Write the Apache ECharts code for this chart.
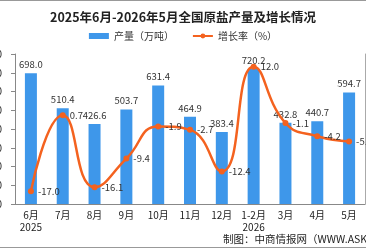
<!DOCTYPE html>
<html>
<head>
<meta charset="utf-8">
<script src="https://cdn.jsdelivr.net/npm/echarts@6/dist/echarts.min.js"></script>
<style>
  html, body { margin: 0; padding: 0; background: #fff; }
  #chart { width: 366px; height: 246px; border-top: 1px solid #999; border-bottom: 1px solid #999; }
</style>
</head>
<body>
<div id="chart"></div>
<script>
const categories = ['6月\n2025', '7月', '8月', '9月', '10月', '11月', '12月', '1-2月\n2026', '3月', '4月', '5月'];
const output = [698.0, 510.4, 426.6, 503.7, 631.4, 464.9, 383.4, 720.2, 432.8, 440.7, 594.7];
const growth = [-17.0, 0.7, -16.1, -9.4, -1.9, -2.7, -12.4, 12.0, -1.1, -4.2, -5.4];

const font = '"Noto Sans CJK SC", sans-serif';
let myChart = echarts.init(document.getElementById('chart'));
myChart.setOption({
  animation: false,
  textStyle: { fontFamily: font },
  title: {
    text: '2025年6月-2026年5月全国原盐产量及增长情况',
    left: 'center',
    top: 5,
    textStyle: { fontSize: 12.5, fontWeight: 'bold', color: '#222', fontFamily: font }
  },
  legend: {
    top: 25,
    left: 'center',
    itemGap: 18,
    itemWidth: 20,
    itemHeight: 6,
    textStyle: { fontSize: 10, color: '#333', fontFamily: font },
    data: [
      { name: '产量（万吨）', icon: 'rect' },
      { name: '增长率（%）' }
    ]
  },
  graphic: [{
    type: 'text',
    left: 223,
    top: 233,
    style: { text: '制图：中商情报网（WWW.ASKCI.COM）', fontSize: 10.5, fill: '#222', fontFamily: font }
  }],
  grid: { left: 15, right: 1, top: 53, bottom: 43, containLabel: false, outerBoundsMode: 'none' },
  xAxis: {
    type: 'category',
    data: categories,
    axisLine: { lineStyle: { color: '#888' } },
    axisTick: { length: 4, lineStyle: { color: '#888' } },
    axisLabel: { fontSize: 10, color: '#222', lineHeight: 12, margin: 5, interval: 0 }
  },
  yAxis: [{
    type: 'value',
    min: 0,
    max: 800,
    interval: 100,
    axisLine: { show: true, lineStyle: { color: '#888' } },
    axisTick: { show: true, length: 4, lineStyle: { color: '#888' } },
    splitLine: { show: false },
    axisLabel: { fontSize: 10, color: '#222', margin: 13 }
  }, {
    type: 'value',
    min: -20,
    max: 15,
    axisLine: { show: true, lineStyle: { color: '#aaa' } },
    axisTick: { show: false },
    axisLabel: { show: false },
    splitLine: { show: false }
  }],
  series: [{
    name: '产量（万吨）',
    type: 'bar',
    data: output,
    barWidth: 12,
    itemStyle: { color: '#3e97ea' },
    label: {
      show: true,
      position: 'top',
      distance: 4,
      fontSize: 9.5,
      color: '#333',
      formatter: p => p.value.toFixed(1)
    }
  }, {
    name: '增长率（%）',
    type: 'line',
    yAxisIndex: 1,
    data: growth,
    smooth: 0.5,
    symbol: 'circle',
    symbolSize: 6,
    lineStyle: { color: '#f4621f', width: 2.5 },
    itemStyle: { color: '#f4621f' },
    label: {
      show: true,
      position: 'right',
      distance: 4,
      fontSize: 9.5,
      color: '#333',
      formatter: p => p.value.toFixed(1)
    }
  }]
});
</script>
</body>
</html>
